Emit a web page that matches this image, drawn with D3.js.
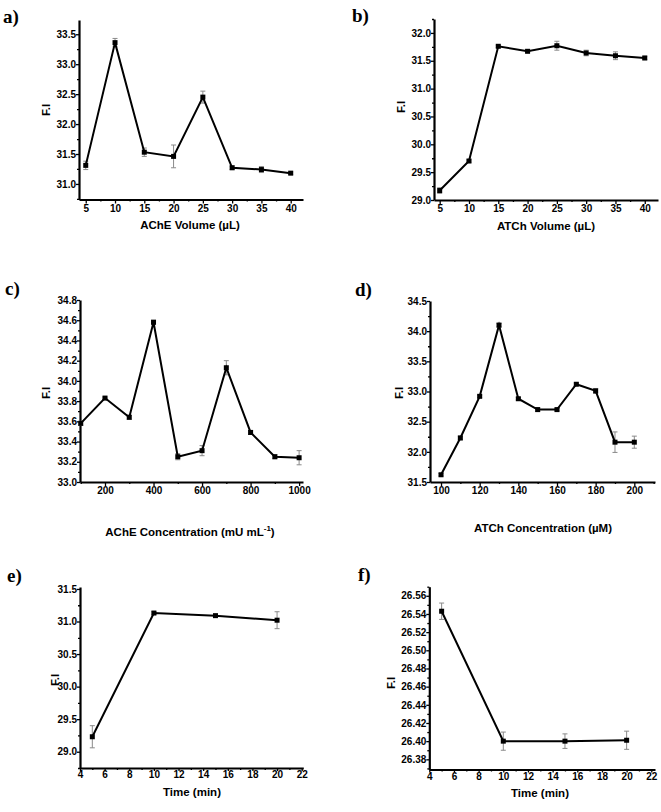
<!DOCTYPE html>
<html>
<head>
<meta charset="utf-8">
<script src="https://cdn.jsdelivr.net/npm/d3@7"></script>
<style>
  body { margin: 0; background: #fff; }
  text { font-family: "Liberation Sans", Arial, sans-serif; font-weight: bold; fill: #000; }
  .tag { font-family: "Liberation Serif", "Times New Roman", serif; font-size: 19px; }
</style>
</head>
<body>
<svg id="chart" width="661" height="812"></svg>
<script>
// a) AChE volume
const aVolume = [5, 10, 15, 20, 25, 30, 35, 40];
const aFI = [31.31, 33.36, 31.53, 31.46, 32.45, 31.27, 31.24, 31.18];
const aErr = [0.07, 0.07, 0.07, 0.19, 0.10, 0.03, 0.05, 0.02];
// b) ATCh volume
const bVolume = [5, 10, 15, 20, 25, 30, 35, 40];
const bFI = [29.17, 29.70, 31.76, 31.67, 31.77, 31.64, 31.59, 31.55];
const bErr = [0.05, 0.02, 0.02, 0.02, 0.08, 0.05, 0.07, 0.03];
// c) AChE concentration
const cConc = [100, 200, 300, 400, 500, 600, 700, 800, 900, 1000];
const cFI = [33.58, 33.83, 33.64, 34.58, 33.25, 33.31, 34.13, 33.49, 33.25, 33.24];
const cErr = [0.02, 0.01, 0.02, 0.02, 0.03, 0.05, 0.07, 0.02, 0.02, 0.07];
// d) ATCh concentration
const dConc = [100, 110, 120, 130, 140, 150, 160, 170, 180, 190, 200];
const dFI = [31.62, 32.23, 32.92, 34.10, 32.88, 32.70, 32.70, 33.12, 33.01, 32.16, 32.16];
const dErr = [0.02, 0.03, 0.02, 0.03, 0.02, 0.03, 0.02, 0.02, 0.04, 0.17, 0.10];
// e) time
const eTime = [5, 10, 15, 20];
const eFI = [29.23, 31.13, 31.09, 31.02];
const eErr = [0.17, 0.02, 0.02, 0.13];
// f) time
const fTime = [5, 10, 15, 20];
const fFI = [26.543, 26.400, 26.400, 26.401];
const fErr = [0.009, 0.010, 0.008, 0.010];

// tick values
const volTicks = [5, 10, 15, 20, 25, 30, 35, 40];
const volMinor = [7.5, 12.5, 17.5, 22.5, 27.5, 32.5, 37.5];
const aYTicks = [31.0, 31.5, 32.0, 32.5, 33.0, 33.5];
const aYMinor = [30.75, 31.25, 31.75, 32.25, 32.75, 33.25, 33.75];
const bYTicks = [29.0, 29.5, 30.0, 30.5, 31.0, 31.5, 32.0];
const bYMinor = [29.25, 29.75, 30.25, 30.75, 31.25, 31.75, 32.25];
const cXTicks = [200, 400, 600, 800, 1000];
const cXMinor = [100, 300, 500, 700, 900];
const cYTicks = [33.0, 33.2, 33.4, 33.6, 33.8, 34.0, 34.2, 34.4, 34.6, 34.8];
const cYMinor = [33.1, 33.3, 33.5, 33.7, 33.9, 34.1, 34.3, 34.5, 34.7];
const dXTicks = [100, 120, 140, 160, 180, 200];
const dXMinor = [110, 130, 150, 170, 190, 210];
const dYTicks = [31.5, 32.0, 32.5, 33.0, 33.5, 34.0, 34.5];
const dYMinor = [31.75, 32.25, 32.75, 33.25, 33.75, 34.25];
const timeTicks = [4, 6, 8, 10, 12, 14, 16, 18, 20, 22];
const timeMinor = [5, 7, 9, 11, 13, 15, 17, 19, 21];
const eYTicks = [29.0, 29.5, 30.0, 30.5, 31.0, 31.5];
const eYMinor = [28.75, 29.25, 29.75, 30.25, 30.75, 31.25];
const fYTicks = [26.38, 26.40, 26.42, 26.44, 26.46, 26.48, 26.50, 26.52, 26.54, 26.56];
const fYMinor = [26.37, 26.39, 26.41, 26.43, 26.45, 26.47, 26.49, 26.51, 26.53, 26.55, 26.57];

const panels = [
  { tag: 'a)', tagPos: [3, 23], xs: aVolume, ys: aFI, err: aErr,
    xRange: [79, 303], yRange: [199.5, 20], xDomain: [3.85, 42.1], yDomain: [30.74, 33.738],
    xTicks: volTicks, xMinor: volMinor, yTicks: aYTicks, yMinor: aYMinor, yFmt: '.1f', tick: 4,
    xLabel: ['AChE Volume (µL)'], xLabelPos: [190, 229], yLabelPos: [50, 110] },
  { tag: 'b)', tagPos: [352, 22], xs: bVolume, ys: bFI, err: bErr,
    xRange: [434, 658], yRange: [200, 19], xDomain: [4.03, 42.26], yDomain: [29.0, 32.25],
    xTicks: volTicks, xMinor: volMinor, yTicks: bYTicks, yMinor: bYMinor, yFmt: '.1f', tick: 4,
    xLabel: ['ATCh Volume (µL)'], xLabelPos: [546, 230], yLabelPos: [405, 107] },
  { tag: 'c)', tagPos: [5, 295], xs: cConc, ys: cFI, err: cErr,
    xRange: [80, 303], yRange: [482, 300], xDomain: [97, 1016], yDomain: [33.0, 34.8],
    xTicks: cXTicks, xMinor: cXMinor, yTicks: cYTicks, yMinor: cYMinor, yFmt: '.1f', tick: 4,
    xLabel: ['AChE Concentration (mU mL', '-1', ')'], xLabelPos: [190, 536], yLabelPos: [50, 393] },
  { tag: 'd)', tagPos: [355, 296], xs: dConc, ys: dFI, err: dErr,
    xRange: [430, 655], yRange: [482, 301], xDomain: [94.3, 210.7], yDomain: [31.5, 34.5],
    xTicks: dXTicks, xMinor: dXMinor, yTicks: dYTicks, yMinor: dYMinor, yFmt: '.1f', tick: 4,
    xLabel: ['ATCh Concentration (µM)'], xLabelPos: [543, 532], yLabelPos: [403, 393] },
  { tag: 'e)', tagPos: [7, 582], xs: eTime, ys: eFI, err: eErr,
    xRange: [80, 303.3], yRange: [768, 587], xDomain: [4, 22.13], yDomain: [28.75, 31.53],
    xTicks: timeTicks, xMinor: timeMinor, yTicks: eYTicks, yMinor: eYMinor, yFmt: '.1f', tick: 3,
    xLabel: ['Time (min)'], xLabelPos: [192, 796], yLabelPos: [59, 680] },
  { tag: 'f)', tagPos: [358, 581], xs: fTime, ys: fFI, err: fErr,
    xRange: [429.3, 655], yRange: [769.5, 586.7], xDomain: [4, 22.3], yDomain: [26.3688, 26.570],
    xTicks: timeTicks, xMinor: timeMinor, yTicks: fYTicks, yMinor: fYMinor, yFmt: '.2f', tick: 3,
    xLabel: ['Time (min)'], xLabelPos: [540, 797], yLabelPos: [395, 683] }
];

const svg = d3.select('#chart');

panels.forEach(p => {
  const g = svg.append('g');
  const x = d3.scaleLinear().domain(p.xDomain).range(p.xRange);
  const y = d3.scaleLinear().domain(p.yDomain).range(p.yRange);
  const pts = p.xs.map((v, i) => ({ x: v, y: p.ys[i], e: p.err[i] }));

  // axes
  g.append('g').attr('transform', `translate(0,${p.yRange[0]})`)
    .call(d3.axisBottom(x).tickValues(p.xTicks).tickSize(p.tick).tickSizeOuter(0)
      .tickPadding(p.tick === 4 ? 1 : 0).tickFormat(d3.format('d')));
  g.append('g').attr('transform', `translate(0,${p.yRange[0]})`)
    .call(d3.axisBottom(x).tickValues(p.xMinor.filter(v => v <= p.xDomain[1])).tickSize(2).tickSizeOuter(0).tickFormat(''))
    .select('.domain').remove();
  g.append('g').attr('transform', `translate(${p.xRange[0]},0)`)
    .call(d3.axisLeft(y).tickValues(p.yTicks).tickSize(3).tickSizeOuter(0).tickPadding(0).tickFormat(d3.format(p.yFmt)));
  g.append('g').attr('transform', `translate(${p.xRange[0]},0)`)
    .call(d3.axisLeft(y).tickValues(p.yMinor.filter(v => v >= p.yDomain[0] && v <= p.yDomain[1])).tickSize(2).tickSizeOuter(0).tickFormat(''))
    .select('.domain').remove();

  g.selectAll('.domain').attr('stroke', '#000').attr('stroke-width', 2.2);
  g.selectAll('.tick line').attr('stroke', '#000').attr('stroke-width', 1.3);
  g.selectAll('.tick text').style('font-size', '10px').style('font-weight', 'bold')
    .style('font-family', '"Liberation Sans", Arial, sans-serif');

  // error bars
  const eb = g.append('g').attr('stroke', '#8a8a8a').attr('stroke-width', 1);
  eb.selectAll('line.v').data(pts).join('line').attr('class', 'v')
    .attr('x1', d => x(d.x)).attr('x2', d => x(d.x))
    .attr('y1', d => y(d.y - d.e)).attr('y2', d => y(d.y + d.e));
  eb.selectAll('line.t').data(pts).join('line').attr('class', 't')
    .attr('x1', d => x(d.x) - 2.5).attr('x2', d => x(d.x) + 2.5)
    .attr('y1', d => y(d.y + d.e)).attr('y2', d => y(d.y + d.e));
  eb.selectAll('line.b').data(pts).join('line').attr('class', 'b')
    .attr('x1', d => x(d.x) - 2.5).attr('x2', d => x(d.x) + 2.5)
    .attr('y1', d => y(d.y - d.e)).attr('y2', d => y(d.y - d.e));

  // line and markers
  g.append('path').datum(pts)
    .attr('fill', 'none').attr('stroke', '#000').attr('stroke-width', 2)
    .attr('d', d3.line().x(d => x(d.x)).y(d => y(d.y)));
  g.selectAll('rect.m').data(pts).join('rect').attr('class', 'm')
    .attr('x', d => x(d.x) - 2.5).attr('y', d => y(d.y) - 2.5)
    .attr('width', 5).attr('height', 5).attr('fill', '#000');

  // labels
  g.append('text').attr('class', 'tag').attr('x', p.tagPos[0]).attr('y', p.tagPos[1]).text(p.tag);
  const xl = g.append('text').attr('x', p.xLabelPos[0]).attr('y', p.xLabelPos[1])
    .attr('text-anchor', 'middle').style('font-size', '11.5px');
  xl.append('tspan').text(p.xLabel[0]);
  if (p.xLabel.length > 1) {
    xl.append('tspan').attr('dy', -5).style('font-size', '8px').text(p.xLabel[1]);
    xl.append('tspan').attr('dy', 5).text(p.xLabel[2]);
  }
  g.append('text').attr('transform', `translate(${p.yLabelPos[0]},${p.yLabelPos[1]}) rotate(-90)`)
    .attr('text-anchor', 'middle').style('font-size', '11.5px').text('F.I');
});
</script>
</body>
</html>
